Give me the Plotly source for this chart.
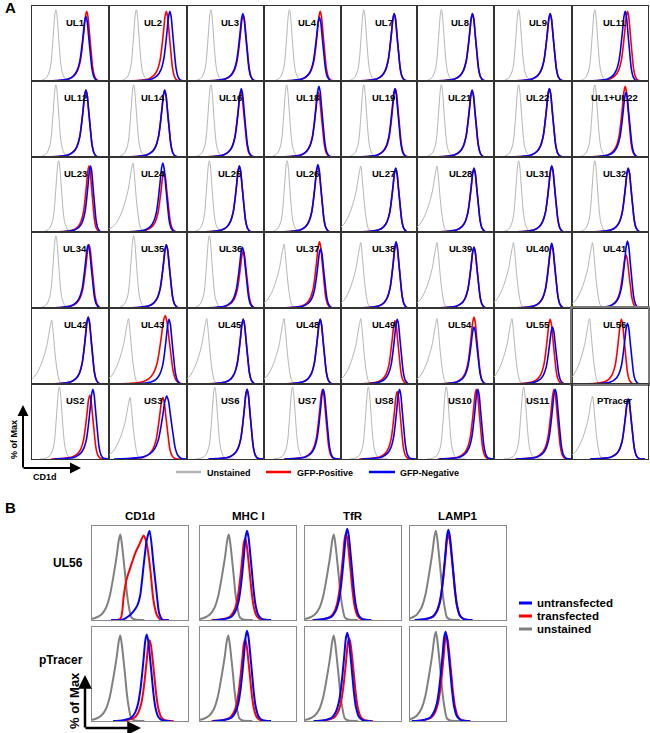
import plotly.graph_objects as go

W, H = 650, 733

# ---------------- Part A data ----------------
PANELS_A = ["UL1", "UL2", "UL3", "UL4", "UL7", "UL8", "UL9", "UL11",
            "UL12", "UL14", "UL16", "UL18", "UL19", "UL21", "UL22", "UL1+UL22",
            "UL23", "UL24", "UL25", "UL26", "UL27", "UL28", "UL31", "UL32",
            "UL34", "UL35", "UL36", "UL37", "UL38", "UL39", "UL40", "UL41",
            "UL42", "UL43", "UL45", "UL48", "UL49", "UL54", "UL55", "UL56",
            "US2", "US3", "US6", "US7", "US8", "US10", "US11", "PTracer"]

# n = narrow unstained histogram, s = unstained histogram with left shoulder
GREY_KIND_A = ["n", "n", "n", "n", "n", "n", "n", "n",
               "n", "n", "n", "n", "n", "n", "n", "n",
               "n", "s", "n", "n", "s", "s", "n", "n",
               "n", "n", "n", "s", "s", "s", "s", "s",
               "s", "s", "s", "s", "s", "s", "s", "s",
               "n", "s", "n", "n", "n", "n", "n", "s"]

GREY_PEAK_A = [31, 35, 31, 33, 30, 31.6, 31.6, 30,
               31, 31.6, 31, 29.4, 30, 31.6, 31.6, 30,
               34.6, 30.7, 29, 30, 26, 26, 31.6, 30,
               31, 31.6, 29, 26, 26, 26, 25, 27,
               25.6, 25, 25.6, 26, 26, 26, 23, 23,
               35.5, 27, 36, 37, 36, 38, 38, 27]
GREY_HEIGHT_A = [95, 95, 95, 95, 95, 95, 95, 95,
                 95, 95, 95, 95, 95, 95, 95, 95,
                 95, 92, 95, 95, 88, 88, 95, 95,
                 95, 95, 95, 84, 86, 86, 86, 86,
                 84, 86, 86, 86, 86, 86, 86, 86,
                 96, 82, 96, 96, 96, 96, 96, 84]

RED_PEAK_A = [71, 73.5, 73, 73, 70, 72, 72, 73,
              70, 71.4, 70, 70.5, 71.5, 71.6, 71, 70,
              74, 70.5, 68, 70, 72, 74, 74, 74,
              74, 73.5, 73, 72, 72.5, 74, 74, 71,
              73, 72, 73, 73, 71, 74, 72, 65,
              75, 69, 78, 76, 74, 77, 77, 74]
BLUE_PEAK_A = [70, 78, 72.5, 72, 70, 72, 72, 70,
               70, 71.4, 70.5, 71.3, 71, 71.6, 71, 71,
               76, 69, 68, 70, 72, 74, 74, 74,
               73, 73.5, 72, 73.5, 72.5, 74, 74, 73,
               73, 77, 73, 73, 74, 74, 75, 73,
               79, 74, 78, 77, 77, 79, 78.5, 74]
RED_HEIGHT_A = [93, 93, 88, 93, 90, 90, 90, 93,
                88, 88, 86, 85, 90, 88, 90, 93,
                88, 80, 88, 88, 85, 85, 88, 85,
                83, 83, 75, 87, 85, 80, 82, 70,
                88, 90, 85, 85, 83, 88, 85, 85,
                85, 82, 93, 93, 90, 93, 93, 80]
BLUE_HEIGHT_A = [86, 93, 90, 85, 90, 90, 90, 93,
                 88, 88, 90, 93, 90, 88, 90, 85,
                 88, 92, 88, 90, 85, 85, 88, 85,
                 83, 83, 80, 78, 87, 80, 85, 88,
                 88, 85, 85, 85, 85, 75, 75, 80,
                 93, 84, 93, 93, 93, 93, 93, 80]
RED_WIDTH_A = [1, 1, 1, 1, 1, 1, 1, 1,
               1, 1, 1, 1, 1, 1, 1, 1,
               0.9, 1, 1, 1, 1, 1, 1, 1,
               1, 1, 1, 1, 1, 1, 1, 1,
               1, 1.3, 1, 1, 1, 1, 1, 1,
               1, 1.1, 1, 1, 1, 1, 1, 1]
BLUE_WIDTH_A = [1, 1, 1, 1, 1, 1, 1, 1,
                1, 1, 1, 1, 1, 1, 1, 1,
                0.9, 1, 1, 1, 1, 1, 1, 1,
                1, 1, 1, 1, 1, 1, 1, 1,
                1, 1, 1, 1, 1, 1, 1, 1,
                1, 1.35, 1, 1, 1, 1, 1, 1]

# histogram shapes (offset from peak in % of panel width, height in % of peak)
STAIN_A_DX = [-50, -34, -23, -16, -11.5, -8, -5.8, -3.5, -1.7, 0, 1.7, 3.5, 5.8, 8, 10.5, 14, 22]
STAIN_A_Y = [0, 1, 3, 8, 16, 30, 48, 72, 92, 100, 92, 70, 42, 18, 6, 1, 0]
GREY_N_DX = [-25, -18, -12, -8, -6, -4, -2, -1, 0, 1, 2, 4, 6, 8, 12, 18, 25]
GREY_N_Y = [0, 1, 5, 15, 28, 55, 85, 96, 100, 96, 85, 55, 28, 13, 3, 0.5, 0]
GREY_S_DX = [-35, -28, -22, -17, -13, -9, -6, -4, -2, 0, 2, 4, 6, 8, 10, 13, 20]
GREY_S_Y = [3, 6, 12, 22, 33, 48, 62, 76, 90, 100, 80, 52, 30, 14, 5, 1, 0]

# ---------------- Part B data ----------------
ROWS_B = ["UL56", "pTracer"]
COLS_B = ["CD1d", "MHC I", "TfR", "LAMP1"]
GREY_PEAK_B = [29.5, 30, 30, 27, 29.5, 29.5, 30, 27]
GREY_HEIGHT_B = [91, 91, 91, 95, 91, 91, 91, 95]
RED_PEAK_B = [54, 47, 42.7, 40, 60, 47, 46, 38]
RED_HEIGHT_B = [90, 87, 92, 91, 86, 87, 88, 91]
BLUE_PEAK_B = [60, 49, 44, 40, 57, 49, 44, 37]
BLUE_HEIGHT_B = [95, 95, 97, 96, 92, 96, 94, 95]
STAIN_B_DX = [-35, -24, -16, -12, -9, -7, -5, -3, -1.5, 0, 1.5, 3, 5, 7, 9, 12, 16, 25]
STAIN_B_Y = [0, 1, 4, 10, 20, 33, 52, 75, 93, 100, 93, 78, 55, 32, 16, 5, 1, 0]
GREY_B_DX = [-40, -27, -20, -15, -11, -7.5, -5, -3.5, -1.5, 0, 1.5, 3, 5, 7, 8.5, 11.5, 15, 25]
GREY_B_Y = [0, 2, 6, 14, 28, 49, 66, 77, 94, 100, 90, 75, 53, 30, 18, 3, 0.5, 0]
# CD1d on UL56-transfected cells: explicit curves
CD1D_UL56_RED_X = [20, 29.5, 33, 35.7, 40, 45, 49.6, 53.8, 57, 60.8, 64, 67.7, 72, 80]
CD1D_UL56_RED_Y = [0, 1, 25, 42, 56, 71, 81, 90, 81, 53, 21, 5, 0, 0]
CD1D_UL56_BLUE_X = [20, 31, 38, 43, 47, 50, 54, 57, 60, 64, 67.7, 70, 73.5, 80]
CD1D_UL56_BLUE_Y = [0, 0, 4, 9, 15, 25, 60, 85, 95, 60, 25, 7, 0, 0]

LEGEND_A = ["Unstained", "GFP-Positive", "GFP-Negative"]
LEGEND_B = ["untransfected", "transfected", "unstained"]

GREY_A, GREY_B_COL, RED, BLUE = "#b4b4b4", "#808080", "#ff0000", "#0000ff"
FONT = "Liberation Sans, Arial, sans-serif"

# panel geometry (pixels)
COL_EDGES_A = [32, 109, 187, 264, 341, 417, 494, 572, 648]
ROW_EDGES_A = [6, 81, 157, 232, 308, 384, 459]
COLS_PX_B = [(92, 188), (200, 296), (305, 401), (410, 506)]
ROWS_PX_B = [(526, 620), (627, 721)]


def fx(p):
    return p / W


def fy(p):
    return 1 - p / H


fig = go.Figure()
layout = {}
annotations = []
shapes = []
counter = [0]


def new_panel(x0, x1, y0, y1, lcolor, lwidth):
    counter[0] += 1
    n = counter[0]
    s = "" if n == 1 else str(n)
    common = dict(showticklabels=False, showgrid=False, zeroline=False, ticks="",
                  showline=True, mirror=True, linecolor=lcolor, linewidth=lwidth,
                  fixedrange=True)
    layout["xaxis" + s] = dict(domain=[fx(x0), fx(x1)], range=[0, 100], anchor="y" + s, **common)
    layout["yaxis" + s] = dict(domain=[fy(y1), fy(y0)], range=[0, 100], anchor="x" + s, **common)
    return s


def shaped(peak, height, width, dxs, ys):
    return [peak + d * width for d in dxs], [v * height / 100 for v in ys]


def add_line(s, xs, ys, color, w):
    fig.add_trace(go.Scatter(x=xs, y=ys, mode="lines", xaxis="x" + s, yaxis="y" + s,
                             line=dict(color=color, width=w, shape="spline", smoothing=0.7),
                             hoverinfo="skip", showlegend=False))


# ---- Part A panels ----
for i, name in enumerate(PANELS_A):
    r, c = divmod(i, 8)
    is56 = name == "UL56"
    s = new_panel(COL_EDGES_A[c], COL_EDGES_A[c + 1], ROW_EDGES_A[r], ROW_EDGES_A[r + 1],
                  "#777777" if is56 else "#333333", 2 if is56 else 1.2)
    if GREY_KIND_A[i] == "n":
        gx, gy = shaped(GREY_PEAK_A[i], GREY_HEIGHT_A[i], 1, GREY_N_DX, GREY_N_Y)
    else:
        gx, gy = shaped(GREY_PEAK_A[i], GREY_HEIGHT_A[i], 1, GREY_S_DX, GREY_S_Y)
    add_line(s, gx, gy, GREY_A, 1)
    rx, ry = shaped(RED_PEAK_A[i], RED_HEIGHT_A[i], RED_WIDTH_A[i], STAIN_A_DX, STAIN_A_Y)
    add_line(s, rx, ry, RED, 1.6)
    bx, by = shaped(BLUE_PEAK_A[i], BLUE_HEIGHT_A[i], BLUE_WIDTH_A[i], STAIN_A_DX, STAIN_A_Y)
    add_line(s, bx, by, BLUE, 1.6)
    annotations.append(dict(text="<b>" + name + "</b>", xref="x" + s + " domain",
                            yref="y" + s + " domain", x=0.56, y=0.88, showarrow=False,
                            font=dict(family=FONT, size=9.5, color="black")))

# ---- Part B panels ----
for r, rname in enumerate(ROWS_B):
    for c, cname in enumerate(COLS_B):
        i = r * 4 + c
        s = new_panel(COLS_PX_B[c][0], COLS_PX_B[c][1], ROWS_PX_B[r][0], ROWS_PX_B[r][1],
                      "#8a8a8a", 1)
        gx, gy = shaped(GREY_PEAK_B[i], GREY_HEIGHT_B[i], 1, GREY_B_DX, GREY_B_Y)
        add_line(s, gx, gy, GREY_B_COL, 2)
        if i == 0:
            add_line(s, CD1D_UL56_RED_X, CD1D_UL56_RED_Y, RED, 2)
            add_line(s, CD1D_UL56_BLUE_X, CD1D_UL56_BLUE_Y, BLUE, 2)
        else:
            rx, ry = shaped(RED_PEAK_B[i], RED_HEIGHT_B[i], 1, STAIN_B_DX, STAIN_B_Y)
            add_line(s, rx, ry, RED, 2)
            bx, by = shaped(BLUE_PEAK_B[i], BLUE_HEIGHT_B[i], 1, STAIN_B_DX, STAIN_B_Y)
            add_line(s, bx, by, BLUE, 2)

# ---- texts ----
def text(t, x, y, size, xanchor="center", yanchor="middle", angle=0):
    annotations.append(dict(text=t, xref="paper", yref="paper", x=fx(x), y=fy(y),
                            xanchor=xanchor, yanchor=yanchor, showarrow=False, textangle=angle,
                            font=dict(family=FONT, size=size, color="black")))


text("<b>A</b>", 3, 8, 15, xanchor="left")
text("<b>B</b>", 3, 507, 15, xanchor="left")


def arrow(hx, hy, tx, ty, w):
    annotations.append(dict(text="", xref="paper", yref="paper", x=fx(hx), y=fy(hy),
                            axref="pixel", ayref="pixel", ax=tx - hx, ay=ty - hy,
                            showarrow=True, arrowhead=2, arrowsize=1.1, arrowwidth=w,
                            arrowcolor="black", standoff=0, startstandoff=0))


# axis arrows A
arrow(23, 405, 23, 469, 2)
arrow(81, 468, 22, 468, 2)
text("<b>% of Max</b>", 14, 440, 9, angle=-90)
text("<b>CD1d</b>", 45, 477, 9)

# legend A
LEG_A_X = [(176, 201, 205), (266, 291, 295), (369, 395, 398)]
for (x0, x1, xt), lab, col in zip(LEG_A_X, LEGEND_A, [GREY_A, RED, BLUE]):
    shapes.append(dict(type="line", xref="paper", yref="paper", x0=fx(x0), x1=fx(x1),
                       y0=fy(472), y1=fy(472), line=dict(color=col, width=2.5)))
    text("<b>" + lab + "</b>", xt, 473, 9, xanchor="left")

# B titles and row labels
for c, cname in enumerate(COLS_B):
    text("<b>" + cname + "</b>", (COLS_PX_B[c][0] + COLS_PX_B[c][1]) / 2, 516, 11.5)
text("<b>UL56</b>", 85, 563, 12, xanchor="right")
text("<b>pTracer</b>", 85, 660, 12, xanchor="right")

arrow(85, 675, 85, 729, 2.5)
arrow(141, 728, 84, 728, 2.5)
text("<b>% of Max</b>", 74, 701, 13, angle=-90)

# legend B
for k, (lab, col) in enumerate(zip(LEGEND_B, [BLUE, RED, GREY_B_COL])):
    yy = 603 + k * 13
    shapes.append(dict(type="line", xref="paper", yref="paper", x0=fx(519), x1=fx(532),
                       y0=fy(yy), y1=fy(yy), line=dict(color=col, width=3)))
    text("<b>" + lab + "</b>", 535, yy, 11.5, xanchor="left")

fig.update_layout(**layout)
fig.update_layout(width=W, height=H, margin=dict(l=0, r=0, t=0, b=0, pad=0),
                  paper_bgcolor="white", plot_bgcolor="white", showlegend=False,
                  annotations=annotations, shapes=shapes)
fig.write_html("out.html")
